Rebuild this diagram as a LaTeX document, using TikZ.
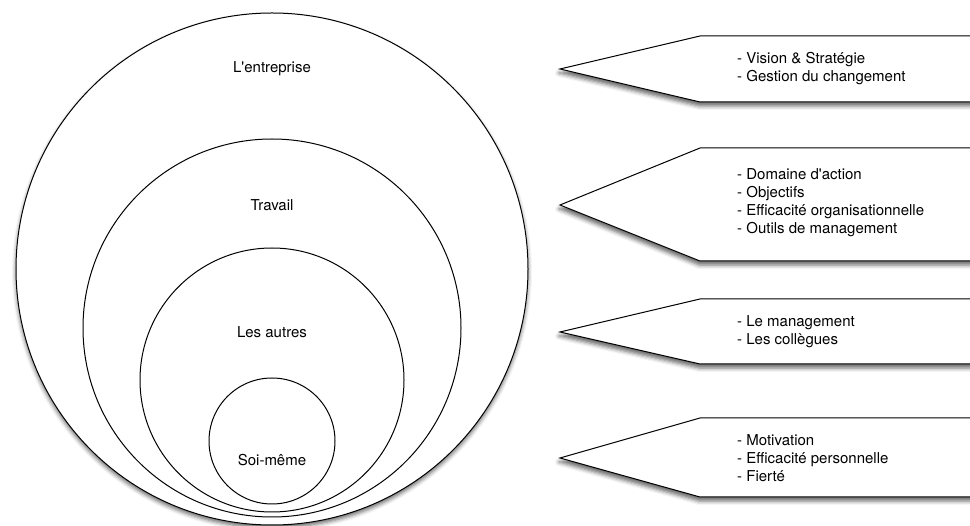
\documentclass[tikz,border=0pt]{standalone}
\usepackage{fontspec}
\setmainfont{TeX Gyre Heros}[Ligatures=TeXOff]
\usetikzlibrary{shadows.blur,positioning}

\begin{document}
\begin{tikzpicture}[
    x=1pt, y=-1pt,
    ring/.style={draw=black, line width=1pt, fill=white},
    ringtext/.style={font=\fontsize{15}{18}\selectfont, inner sep=0pt},
    pointer/.style={draw=black, line width=1pt, fill=white,
        blur shadow={shadow xshift=-1pt, shadow yshift=-4pt, shadow blur radius=4pt, shadow opacity=60}},
    items/.style={font=\fontsize{15}{18}\selectfont, align=left, anchor=west, inner sep=0pt}
]
\useasboundingbox (0,0) rectangle (970,526);
\clip (0,0) rectangle (970,526);

% nested circles
\draw[ring, blur shadow={shadow xshift=0pt, shadow yshift=-3pt, shadow blur radius=4pt, shadow opacity=60}] (272,269) circle[radius=256];
\draw[ring] (272,328) circle[radius=189];
\draw[ring] (272,380) circle[radius=132];
\draw[ring] (272,441) circle[radius=63];

\node[ringtext] (entreprise) at (272,69) {L'entreprise};
\node[ringtext] (travail) at (272,205) {Travail};
\node[ringtext] (autres) at (272,332) {Les autres};
\node[ringtext] (soi) at (272,460) {Soi-même};

% pointers
\draw[pointer] (560,69) -- (700,36) -- (985,36) -- (985,102) -- (700,102) -- cycle;
\draw[pointer] (560,205) -- (700,148) -- (985,148) -- (985,261) -- (700,261) -- cycle;
\draw[pointer] (560,332) -- (700,299) -- (985,299) -- (985,364) -- (700,364) -- cycle;
\draw[pointer] (560,458) -- (700,418) -- (985,418) -- (985,497) -- (700,497) -- cycle;

\node[items] (strategie) at (737,69) {- Vision \& Stratégie\\- Gestion du changement};
\node[items] (action) at (737,203) {- Domaine d'action\\- Objectifs\\- Efficacité organisationnelle\\- Outils de management};
\node[items] (collegues) at (737,332) {- Le management\\- Les collègues};
\node[items] (motivation) at (737,458) {- Motivation\\- Efficacité personnelle\\- Fierté};
\end{tikzpicture}
\end{document}
